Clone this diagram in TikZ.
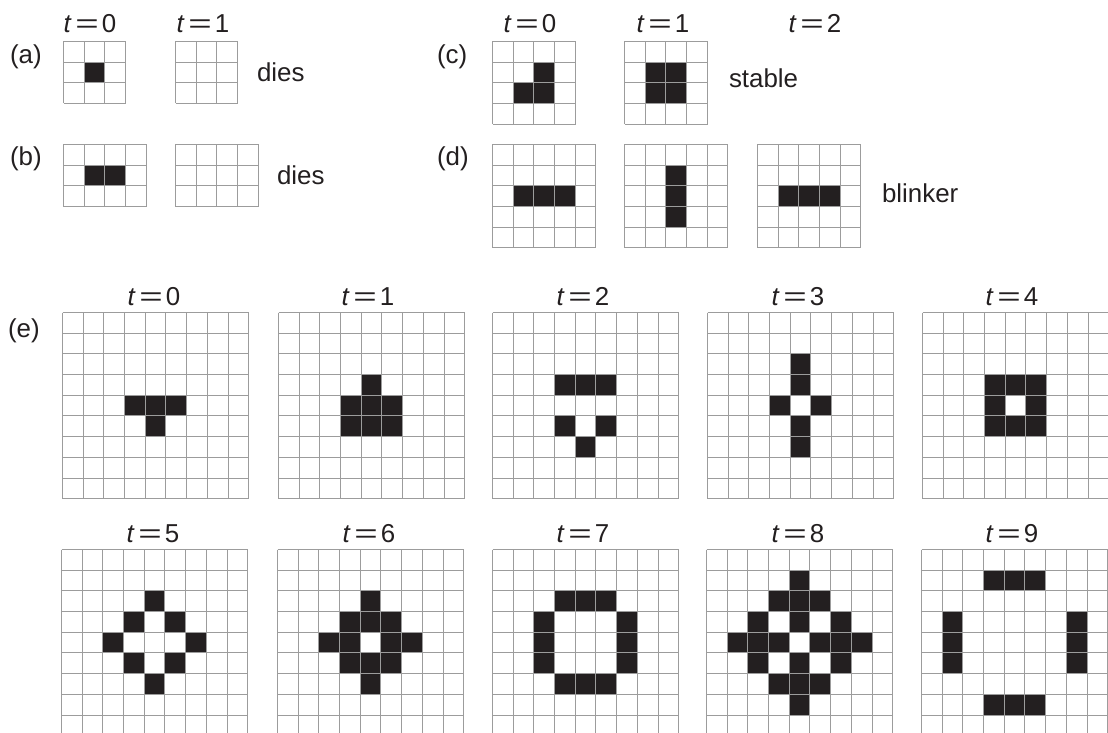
\documentclass[tikz,border=0pt]{standalone}
\usepackage{fontspec}
\usepackage{graphicx}
\setmainfont{Liberation Sans}
\definecolor{ink}{HTML}{231F20}
\definecolor{gridgray}{HTML}{9C9C9C}
\def\cellsz{20.7}
\tikzset{
  cellfill/.style={fill=ink},
  gridline/.style={draw=gridgray, line width=1.8bp, line cap=square},
  lbl/.style={text=ink, font=\fontsize{26}{30}\selectfont, inner sep=0pt, outer sep=0pt},
}
\newcommand\tlab[1]{\textit{t}\hspace{0.14em}\scalebox{1.55}[1]{=}\hspace{0.12em}#1}
\newcommand\lifegrid[6]{%
  \coordinate (#1) at (#2,#3);
  \begin{scope}[shift={(#1)}]
    \foreach \c/\r in {#6} {\fill[cellfill] ({round(\c*\cellsz)},{round(\r*\cellsz)}) rectangle ({round((\c+1)*\cellsz)},{round((\r+1)*\cellsz)});}
    \foreach \i in {0,...,#4} {\draw[gridline] ({round(\i*\cellsz)},0) -- ({round(\i*\cellsz)},{round(#5*\cellsz)});}
    \foreach \j in {0,...,#5} {\draw[gridline] (0,{round(\j*\cellsz)}) -- ({round(#4*\cellsz)},{round(\j*\cellsz)});}
  \end{scope}}
\begin{document}
\begin{tikzpicture}[x=1bp,y=-1bp]
\useasboundingbox (0,0) rectangle (1108,733);
\clip (0,0) rectangle (1108,733);
% ---------- (a) ----------
\node[lbl, anchor=base west] (la) at (10,64) {(a)};
\node[lbl, anchor=base] (ta0) at (90,33) {\tlab{0}};
\node[lbl, anchor=base] (ta1) at (203,33) {\tlab{1}};
\lifegrid{ga0}{63.5}{41.5}{3}{3}{1/1}
\lifegrid{ga1}{175.5}{41.5}{3}{3}{}
\node[lbl, anchor=base west] (da) at (257,82) {dies};
% ---------- (b) ----------
\node[lbl, anchor=base west] (lb) at (10,166) {(b)};
\lifegrid{gb0}{63.5}{144.5}{4}{3}{1/1,2/1}
\lifegrid{gb1}{175.5}{144.5}{4}{3}{}
\node[lbl, anchor=base west] (db) at (277,185) {dies};
% ---------- (c) ----------
\node[lbl, anchor=base west] (lc) at (437,64) {(c)};
\node[lbl, anchor=base] (tc0) at (530,33) {\tlab{0}};
\node[lbl, anchor=base] (tc1) at (663,33) {\tlab{1}};
\node[lbl, anchor=base] (tc2) at (815,33) {\tlab{2}};
\lifegrid{gc0}{492.5}{41.5}{4}{4}{2/1,1/2,2/2}
\lifegrid{gc1}{624.5}{41.5}{4}{4}{1/1,2/1,1/2,2/2}
\node[lbl, anchor=base west] (sc) at (729,88) {stable};
% ---------- (d) ----------
\node[lbl, anchor=base west] (ld) at (437,166) {(d)};
\lifegrid{gd0}{492.5}{144.5}{5}{5}{1/2,2/2,3/2}
\lifegrid{gd1}{624.5}{144.5}{5}{5}{2/1,2/2,2/3}
\lifegrid{gd2}{757.5}{144.5}{5}{5}{1/2,2/2,3/2}
\node[lbl, anchor=base west] (bd) at (882,203) {blinker};
% ---------- (e) ----------
\node[lbl, anchor=base west] (le) at (8,337) {(e)};
\node[lbl, anchor=base] (te0) at (154,305) {\tlab{0}};
\node[lbl, anchor=base] (te1) at (368,305) {\tlab{1}};
\node[lbl, anchor=base] (te2) at (583,305) {\tlab{2}};
\node[lbl, anchor=base] (te3) at (798,305) {\tlab{3}};
\node[lbl, anchor=base] (te4) at (1012,305) {\tlab{4}};
\lifegrid{ge0}{62.5}{312.5}{9}{9}{3/4,4/4,5/4,4/5}
\lifegrid{ge1}{278.5}{312.5}{9}{9}{4/3,3/4,4/4,5/4,3/5,4/5,5/5}
\lifegrid{ge2}{492.5}{312.5}{9}{9}{3/3,4/3,5/3,3/5,5/5,4/6}
\lifegrid{ge3}{707.5}{312.5}{9}{9}{4/2,4/3,3/4,5/4,4/5,4/6}
\lifegrid{ge4}{922.5}{312.5}{9}{9}{3/3,4/3,5/3,3/4,5/4,3/5,4/5,5/5}
\node[lbl, anchor=base] (te5) at (153,542) {\tlab{5}};
\node[lbl, anchor=base] (te6) at (369,542) {\tlab{6}};
\node[lbl, anchor=base] (te7) at (583,542) {\tlab{7}};
\node[lbl, anchor=base] (te8) at (798,542) {\tlab{8}};
\node[lbl, anchor=base] (te9) at (1012,542) {\tlab{9}};
\lifegrid{ge5}{61.5}{549.5}{9}{9}{4/2,3/3,5/3,2/4,6/4,3/5,5/5,4/6}
\lifegrid{ge6}{277.5}{549.5}{9}{9}{4/2,3/3,4/3,5/3,2/4,3/4,5/4,6/4,3/5,4/5,5/5,4/6}
\lifegrid{ge7}{492.5}{549.5}{9}{9}{3/2,4/2,5/2,2/3,6/3,2/4,6/4,2/5,6/5,3/6,4/6,5/6}
\lifegrid{ge8}{706.5}{549.5}{9}{9}{4/1,3/2,4/2,5/2,2/3,4/3,6/3,1/4,2/4,3/4,5/4,6/4,7/4,2/5,4/5,6/5,3/6,4/6,5/6,4/7}
\lifegrid{ge9}{921.5}{549.5}{9}{9}{3/1,4/1,5/1,1/3,1/4,1/5,7/3,7/4,7/5,3/7,4/7,5/7}
\end{tikzpicture}
\end{document}
